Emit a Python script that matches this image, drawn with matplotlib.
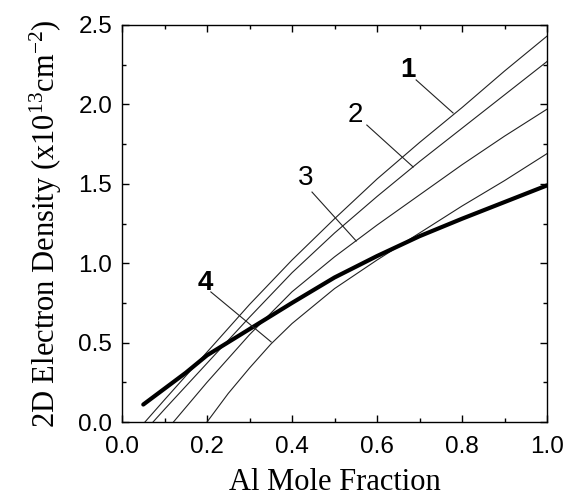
import matplotlib
matplotlib.use("Agg")
import matplotlib.pyplot as plt
from matplotlib.ticker import MultipleLocator

# Data
x1 = [0.054, 0.1, 0.2, 0.3, 0.4, 0.5, 0.6, 0.7, 0.8, 0.9, 1.0]
y1 = [0.0, 0.14, 0.44, 0.74, 1.02, 1.28, 1.53, 1.76, 1.98, 2.21, 2.43]
x2 = [0.073, 0.1, 0.2, 0.3, 0.4, 0.5, 0.6, 0.7, 0.8, 0.9, 1.0]
y2 = [0.0, 0.08, 0.37, 0.66, 0.94, 1.19, 1.42, 1.64, 1.85, 2.06, 2.27]
x3 = [0.121, 0.2, 0.3, 0.4, 0.5, 0.6, 0.7, 0.8, 0.9, 1.0]
y3 = [0.0, 0.25, 0.55, 0.82, 1.04, 1.24, 1.43, 1.62, 1.80, 1.97]
x4 = [0.2, 0.25, 0.3, 0.35, 0.4, 0.5, 0.6, 0.7, 0.8, 0.9, 1.0]
y4 = [0.0, 0.18, 0.34, 0.49, 0.62, 0.84, 1.02, 1.19, 1.36, 1.52, 1.69]
xt = [0.05, 0.1, 0.15, 0.2, 0.3, 0.4, 0.5, 0.6, 0.7, 0.8, 0.9, 1.0]
yt = [0.11, 0.21, 0.31, 0.42, 0.585, 0.75, 0.91, 1.045, 1.17, 1.28, 1.385, 1.49]

labels = ["1", "2", "3", "4"]
label_pos = [(0.673, 2.217), (0.548, 1.933), (0.431, 1.537), (0.195, 0.875)]
leader_start = [(0.692, 2.154), (0.576, 1.870), (0.447, 1.448), (0.209, 0.819)]
leader_end = [(0.779, 1.946), (0.685, 1.606), (0.551, 1.140), (0.351, 0.504)]
label_weight = ["bold", "normal", "normal", "bold"]

xticks = [0.0, 0.2, 0.4, 0.6, 0.8, 1.0]
xticklabels = ["0.0", "0.2", "0.4", "0.6", "0.8", "1.0"]
yticks = [0.0, 0.5, 1.0, 1.5, 2.0, 2.5]
yticklabels = ["0.0", "0.5", "1.0", "1.5", "2.0", "2.5"]

plt.rcParams['mathtext.fontset'] = 'custom'
plt.rcParams['mathtext.rm'] = 'Liberation Serif'
plt.rcParams['mathtext.it'] = 'Liberation Serif:italic'

fig = plt.figure(figsize=(5.71, 4.97), dpi=100)
ax = fig.add_axes([0.2137, 0.1509, 0.958 - 0.2137, 0.9497 - 0.1509])

for xs, ys in [(x1, y1), (x2, y2), (x3, y3), (x4, y4)]:
    ax.plot(xs, ys, color="#222222", lw=0.8)
ax.plot(xt, yt, color="black", lw=3.0, solid_capstyle="round")

for lab, p, s, e, w in zip(labels, label_pos, leader_start, leader_end, label_weight):
    ax.text(p[0], p[1], lab, ha="center", va="center", fontsize=20,
            family="Liberation Sans", fontweight=w)
    ax.plot([s[0], e[0]], [s[1], e[1]], color="#222222", lw=0.8)

ax.set_xlim(0, 1.0)
ax.set_ylim(0, 2.5)
ax.set_xticks(xticks)
ax.set_xticklabels(xticklabels)
ax.set_yticks(yticks)
ax.set_yticklabels(yticklabels)
ax.xaxis.set_minor_locator(MultipleLocator(0.1))
ax.yaxis.set_minor_locator(MultipleLocator(0.25))
ax.tick_params(which="both", direction="in", top=True, right=True, width=1.0)
ax.tick_params(which="major", length=5, labelsize=17.5)
ax.tick_params(axis="x", which="major", pad=10)
ax.tick_params(axis="y", which="major", pad=7)
ax.tick_params(which="minor", length=3)
for t in ax.get_xticklabels() + ax.get_yticklabels():
    t.set_family("Liberation Sans")
for sp in ax.spines.values():
    sp.set_linewidth(1.0)

ax.set_xlabel("Al Mole Fraction", family="Liberation Serif", fontsize=22, labelpad=7)
ax.set_ylabel(r"2D Electron Density (x10$^{13}$cm$^{-2}$)", family="Liberation Serif",
              fontsize=22, labelpad=10)

fig.savefig("out.png", dpi=100)
